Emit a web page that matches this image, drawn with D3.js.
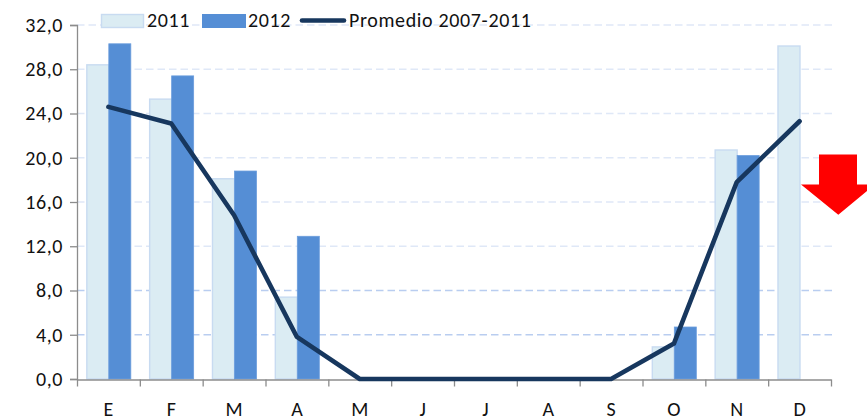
<!DOCTYPE html>
<html><head><meta charset="utf-8"><style>html,body{margin:0;padding:0;background:#fff}</style>
<script src="https://cdn.jsdelivr.net/npm/d3@7/dist/d3.min.js"></script></head>
<body><svg id="c" width="867" height="420" style="display:block"></svg>
<script>
const months=["E","F","M","A","M","J","J","A","S","O","N","D"];
const v2011=[28.4,25.3,18.1,7.4,0,0,0,0,0,2.9,20.7,30.1];
const v2012=[30.3,27.4,18.8,12.9,0,0,0,0,0,4.7,20.2,null];
const avg=[24.6,23.1,14.8,3.8,0,0,0,0,0,3.2,17.8,23.3];
const ticks=[0,4,8,12,16,20,24,28,32];
const seriesNames=["2011","2012","Promedio 2007-2011"];
const font="Carlito, Calibri, Lato, sans-serif";
const svg=d3.select("#c");
const x=d3.scaleBand().domain(d3.range(12)).range([77,831]).padding(0);
const y=d3.scaleLinear().domain([0,32]).range([379,25]);
const fmt=d=>d.toFixed(1).replace(".",",");
// grid
svg.append("g").selectAll("line").data(ticks.slice(1)).join("line")
 .attr("x1",77).attr("x2",833).attr("y1",d=>y(d)).attr("y2",d=>y(d))
 .attr("stroke",d=>d<=8?"#b9cdf0":"#dfe8f7").attr("stroke-width",1.4).attr("stroke-dasharray","7.5 4");
const bw=22;
const cx=i=>x(i)+x.bandwidth()/2;
const bars=svg.append("g");
bars.selectAll(".a").data(v2011.map((v,i)=>({v,i})).filter(d=>d.v>0)).join("rect")
 .attr("x",d=>cx(d.i)-bw+.4).attr("width",bw).attr("y",d=>y(d.v)).attr("height",d=>y(0)-y(d.v))
 .attr("fill","#dbecf3").attr("stroke","#c8dbf1").attr("stroke-width",1.4);
bars.selectAll(".b").data(v2012.map((v,i)=>({v,i})).filter(d=>d.v>0)).join("rect")
 .attr("x",d=>cx(d.i)+.4).attr("width",bw).attr("y",d=>y(d.v)).attr("height",d=>y(0)-y(d.v))
 .attr("fill","#558ed5").attr("stroke","#6b9ddc").attr("stroke-width",.8);
// axes
const ya=d3.axisLeft(y).tickValues(ticks).tickFormat(fmt).tickSize(7).tickPadding(7);
const gy=svg.append("g").attr("transform","translate(77,0)").call(ya);
const xa=d3.axisBottom(d3.scaleLinear().domain([0,12]).range([77,831])).tickValues(d3.range(13)).tickFormat("").tickSize(7).tickSizeOuter(0);
const gx=svg.append("g").attr("transform","translate(0,379.5)").call(xa);
[gy,gx].forEach(g=>{g.selectAll("path,line").attr("stroke","#8c8c8c").attr("stroke-width",1.3);});
gy.selectAll("text").attr("font-family",font).attr("font-size",20).attr("letter-spacing",.6).attr("fill","#111");
svg.append("g").selectAll("text").data(months).join("text")
 .attr("x",(d,i)=>cx(i)).attr("y",416).attr("text-anchor","middle")
 .attr("font-family",font).attr("font-size",20).attr("fill","#111").text(d=>d);
// line
const line=d3.line().x((d,i)=>cx(i)).y(d=>y(d));
svg.append("path").attr("d",line(avg)).attr("fill","none").attr("stroke","#17375e").attr("stroke-width",4.6).attr("stroke-linecap","round").attr("stroke-linejoin","round");
// legend
const lg=svg.append("g").attr("font-family",font).attr("font-size",20).attr("letter-spacing",.65).attr("fill","#111");
lg.append("rect").attr("x",101.5).attr("y",14.5).attr("width",42).attr("height",13).attr("fill","#dbecf3").attr("stroke","#c8dbf1").attr("stroke-width",1.4);
lg.append("text").attr("x",147).attr("y",27).text(seriesNames[0]);
lg.append("rect").attr("x",202).attr("y",14).attr("width",44).attr("height",14).attr("fill","#558ed5");
lg.append("text").attr("x",248).attr("y",27).text(seriesNames[1]);
lg.append("line").attr("x1",302).attr("x2",344).attr("y1",20.5).attr("y2",20.5).attr("stroke","#17375e").attr("stroke-width",4.6).attr("stroke-linecap","round");
lg.append("text").attr("x",349).attr("y",27).text(seriesNames[2]);
// arrow
const arrow=d3.path();
arrow.moveTo(819,154.5);arrow.lineTo(857,154.5);arrow.lineTo(857,184.5);arrow.lineTo(875,184.5);arrow.lineTo(838.3,214.7);arrow.lineTo(801,184.5);arrow.lineTo(819,184.5);arrow.closePath();
svg.append("path").attr("d",arrow.toString()).attr("fill","#ff0000");
</script></body></html>
